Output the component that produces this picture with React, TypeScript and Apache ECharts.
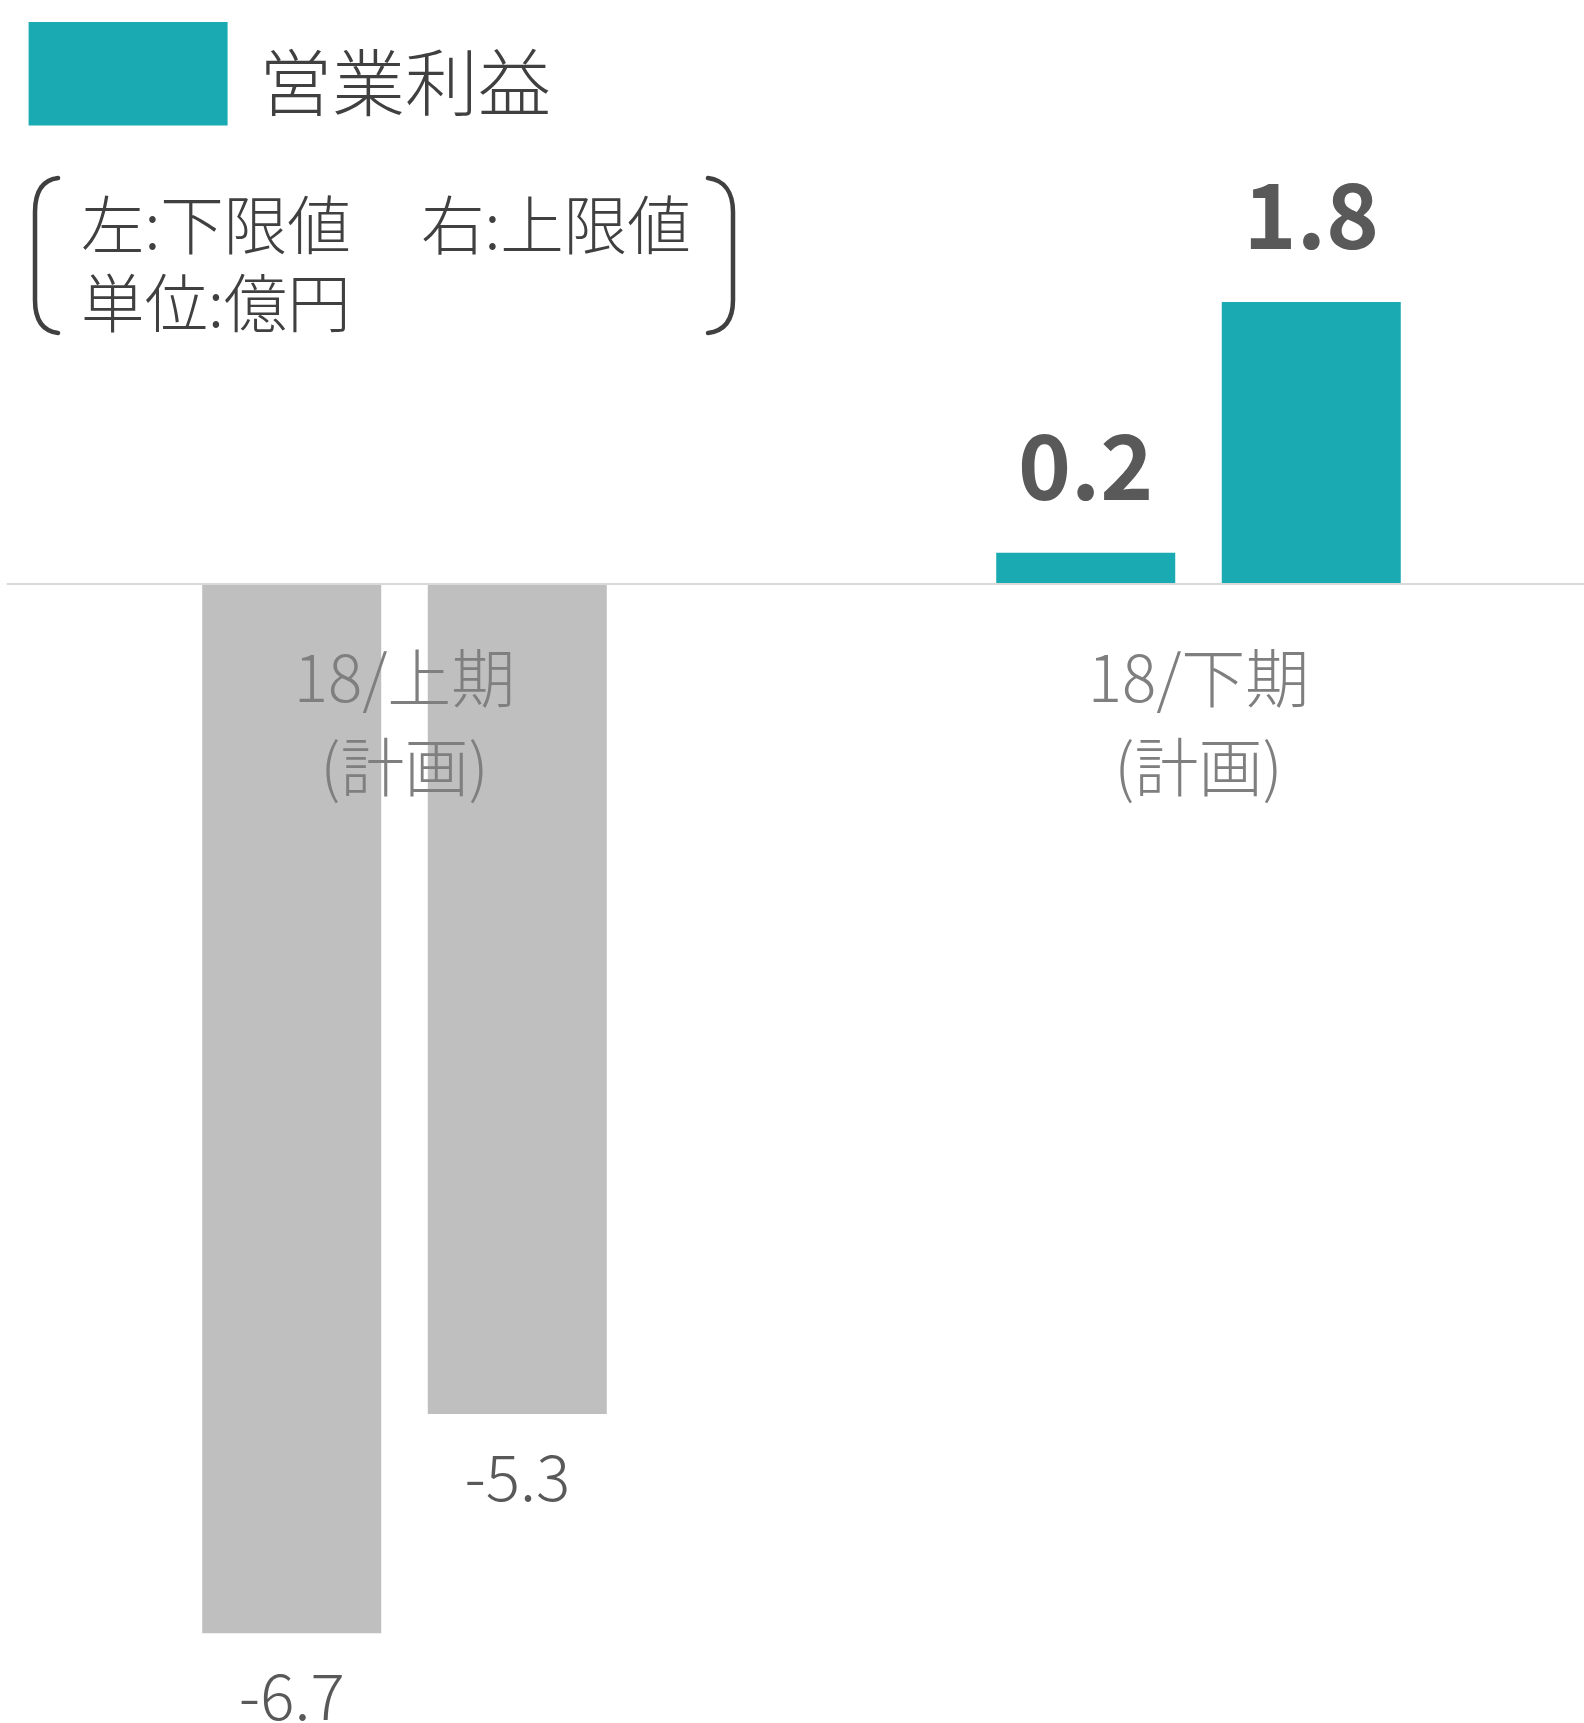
import React, { useEffect, useRef } from "react";
import * as echarts from "echarts";

const categories = ["18/上期\n(計画)", "18/下期\n(計画)"];
const lowerValues = [-6.7, 0.2];
const upperValues = [-5.3, 1.8];
const categoryColors = ["#BFBFBF", "#1AAAB2"];
const legendName = "営業利益";
const noteLeft = "左:下限値";
const noteRight = "右:上限値";
const noteUnit = "単位:億円";

const FONT = '"Noto Sans CJK JP", "Noto Sans", sans-serif';

const leftBracket =
  "M58,178 C42,180 35,192 35,212 L35,300 C35,320 42,331 58,333";
const rightBracket =
  "M708,178 C724,180 733,192 733,212 L733,300 C733,320 724,331 708,333";

echarts.graphic.registerShape("bracketL", echarts.graphic.extendPath(leftBracket, {}));
echarts.graphic.registerShape("bracketR", echarts.graphic.extendPath(rightBracket, {}));

function makeData(values: number[]) {
  return values.map((v, i) => ({
    value: v,
    itemStyle: { color: categoryColors[i] },
    label:
      v >= 0
        ? {
            show: true,
            position: "top",
            distance: 47,
            fontSize: 90,
            lineHeight: 90,
            fontWeight: "bold",
            color: "#595959",
            fontFamily: FONT,
          }
        : {
            show: true,
            position: "bottom",
            distance: 27,
            fontSize: 64,
            lineHeight: 64,
            fontWeight: 300,
            color: "#595959",
            fontFamily: FONT,
          },
  }));
}

function noteText(text: string, x: number, y: number) {
  return {
    type: "text",
    x,
    y,
    style: {
      text,
      fontSize: 63.5,
      fontWeight: 300,
      fontFamily: FONT,
      fill: "#404040",
      verticalAlign: "middle",
      align: "left",
    },
  };
}

export default function App() {
  const ref = useRef<HTMLDivElement>(null);
  useEffect(() => {
    document.body.style.margin = "0";
    document.body.style.overflow = "hidden";
    const chart = echarts.init(ref.current!, null, { renderer: "svg" });
    chart.setOption({
      animation: false,
      backgroundColor: "#ffffff",
      textStyle: { fontFamily: FONT },
      grid: [
        { left: 7.5, top: 270.8, width: 1588, height: 1409.4, containLabel: false, outerBoundsMode: "none" },
        { left: 7.5, top: 583, width: 1588, height: 1, containLabel: false, outerBoundsMode: "none" },
      ],
      xAxis: [
        {
          type: "category",
          gridIndex: 0,
          data: categories,
          z: 10,
          axisLine: { show: true, onZero: true, lineStyle: { color: "#D9D9D9", width: 2 } },
          axisTick: { show: false },
          splitLine: { show: false },
          axisLabel: { show: false },
        },
        {
          type: "category",
          gridIndex: 1,
          position: "bottom",
          data: categories,
          z: 10,
          axisLine: { show: false },
          axisTick: { show: false },
          splitLine: { show: false },
          axisLabel: {
            fontSize: 64,
            lineHeight: 89,
            fontWeight: 300,
            color: "#7F7F7F",
            margin: 45,
            fontFamily: FONT,
            interval: 0,
          },
        },
      ],
      yAxis: [
        { type: "value", gridIndex: 0, min: -7, max: 2, show: false, splitLine: { show: false } },
        { type: "value", gridIndex: 1, min: 0, max: 1, show: false, splitLine: { show: false } },
      ],
      series: [
        {
          name: "下限値",
          type: "bar",
          barWidth: 179,
          barGap: "26%",
          data: makeData(lowerValues),
        },
        {
          name: "上限値",
          type: "bar",
          barWidth: 179,
          barGap: "26%",
          data: makeData(upperValues),
        },
      ],
      graphic: [
        {
          type: "rect",
          shape: { x: 28.6, y: 22, width: 199, height: 103.5 },
          style: { fill: "#1AAAB2" },
        },
        {
          type: "text",
          x: 259,
          y: 78,
          style: {
            text: legendName,
            fontSize: 73,
            fontWeight: 300,
            fontFamily: FONT,
            fill: "#404040",
            verticalAlign: "middle",
            align: "left",
          },
        },
        noteText(noteLeft, 81, 221),
        noteText(noteRight, 421, 221),
        noteText(noteUnit, 81, 299),
        {
          type: "bracketL",
          x: 0,
          y: 0,
          style: { fill: "none", stroke: "#404040", lineWidth: 4.5, lineCap: "round" },
        },
        {
          type: "bracketR",
          x: 0,
          y: 0,
          style: { fill: "none", stroke: "#404040", lineWidth: 4.5, lineCap: "round" },
        },
      ],
    });
    return () => chart.dispose();
  }, []);
  return (
    <div style={{ width: 1584, height: 1723, overflow: "hidden", position: "relative" }}>
      <div ref={ref} style={{ width: 1600, height: 1723 }} />
    </div>
  );
}
